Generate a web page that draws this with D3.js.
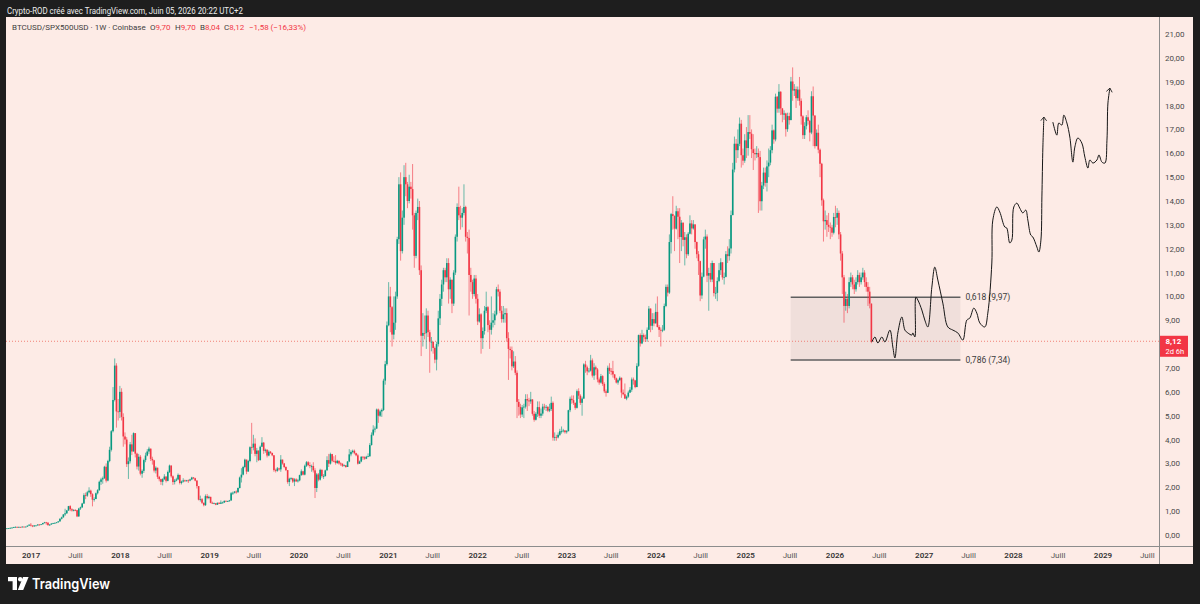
<!DOCTYPE html>
<html>
<head>
<meta charset="utf-8">
<script src="https://cdn.jsdelivr.net/npm/d3@7"></script>
<style>
  html, body { margin: 0; padding: 0; background: #1e1e1e; }
  svg { display: block; }
  text { font-family: Roboto, "Liberation Sans", sans-serif; }
</style>
</head>
<body>
<svg id="chart"></svg>
<script>
// weekly candles BTCUSD/SPX500USD, one array per year: [close, high, low]
// open of each week = close of the week before
const firstOpen = 0.27;
const weekStarts = ['2016-09-26', '2017-01-02', '2018-01-01', '2019-01-07', '2020-01-06',
    '2021-01-04', '2022-01-03', '2023-01-02', '2024-01-01', '2025-01-06', '2026-01-05'];

const candles2016 = [[0.28,0.29,0.27],[0.29,0.29,0.28],[0.30,0.31,0.28],[0.31,0.32,0.29],[0.33,0.34,0.30],[0.34,0.36,0.32],[0.33,0.35,0.32],[0.34,0.35,0.32],[0.33,0.34,0.32],[0.35,0.36,0.33],[0.34,0.35,0.33],[0.35,0.36,0.34],[0.39,0.40,0.35],[0.43,0.45,0.39]];
const candles2017 = [[0.40,0.50,0.36],[0.36,0.40,0.33],[0.40,0.41,0.35],[0.40,0.41,0.39],[0.44,0.45,0.40],[0.43,0.45,0.40],[0.45,0.46,0.43],[0.50,0.51,0.44],[0.53,0.55,0.49],[0.52,0.55,0.43],[0.41,0.52,0.40],[0.44,0.45,0.38],[0.48,0.49,0.43],[0.50,0.51,0.47],[0.51,0.52,0.49],[0.53,0.54,0.50],[0.57,0.58,0.52],[0.68,0.70,0.56],[0.74,0.77,0.65],[0.86,0.88,0.73],[0.91,1.10,0.80],[1.03,1.05,0.88],[1.21,1.22,1.01],[1.08,1.25,1.00],[1.03,1.12,0.98],[1.05,1.08,0.99],[1.04,1.08,1.00],[0.78,1.05,0.75],[1.11,1.14,0.76],[1.16,1.19,1.05],[1.32,1.35,1.13],[1.67,1.75,1.30],[1.65,1.78,1.50],[1.79,1.85,1.60],[1.86,2.00,1.75],[1.71,1.90,1.60],[1.48,1.75,1.20],[1.51,1.58,1.40],[1.75,1.78,1.50],[1.88,1.92,1.70],[2.23,2.28,1.85],[2.33,2.40,2.10],[2.38,2.45,2.15],[2.86,2.90,2.35],[2.28,3.00,2.20],[3.10,3.15,2.25],[3.57,3.70,3.05],[4.35,4.40,3.50],[5.66,6.20,4.30],[7.10,7.40,5.60],[5.18,7.20,4.50],[5.16,5.70,4.80]];
const candles2018 = [[6.00,6.25,4.90],[4.95,6.15,4.80],[4.13,5.10,3.70],[4.00,4.30,3.80],[2.97,4.10,2.85],[3.09,3.25,2.35],[3.80,3.90,3.00],[3.50,4.20,3.35],[4.27,4.30,3.50],[3.41,4.15,3.25],[2.87,3.45,2.75],[3.28,3.40,2.70],[2.57,3.35,2.50],[2.69,2.75,2.40],[3.14,3.20,2.60],[3.33,3.45,3.05],[3.50,3.60,3.30],[3.62,3.70,3.40],[3.19,3.62,3.10],[3.13,3.28,2.95],[2.70,3.15,2.62],[2.82,2.88,2.58],[2.44,2.82,2.35],[2.34,2.48,2.25],[2.23,2.36,2.10],[2.34,2.38,2.08],[2.45,2.55,2.30],[2.27,2.46,2.20],[2.64,2.70,2.25],[2.91,2.95,2.60],[2.46,2.92,2.40],[2.22,2.50,2.10],[2.28,2.35,2.12],[2.33,2.40,2.25],[2.52,2.58,2.30],[2.18,2.52,2.12],[2.24,2.28,2.12],[2.29,2.38,2.20],[2.27,2.32,2.22],[2.29,2.31,2.24],[2.28,2.33,2.18],[2.33,2.36,2.25],[2.41,2.44,2.30],[2.38,2.43,2.34],[2.28,2.40,2.25],[2.05,2.30,1.95],[1.48,2.05,1.45],[1.50,1.65,1.40],[1.35,1.55,1.30],[1.25,1.36,1.20],[1.63,1.70,1.22],[1.55,1.72,1.50],[1.60,1.65,1.50]];
const candles2019 = [[1.35,1.60,1.33],[1.33,1.40,1.30],[1.33,1.36,1.30],[1.27,1.34,1.25],[1.35,1.36,1.26],[1.31,1.37,1.30],[1.36,1.45,1.30],[1.36,1.40,1.33],[1.43,1.45,1.35],[1.42,1.45,1.40],[1.42,1.44,1.40],[1.45,1.47,1.40],[1.75,1.80,1.43],[1.77,1.82,1.68],[1.82,1.84,1.74],[1.79,1.87,1.73],[1.97,1.99,1.78],[2.41,2.45,1.95],[2.53,2.80,2.20],[2.85,2.90,2.50],[3.16,3.20,2.80],[2.66,3.10,2.55],[3.10,3.15,2.65],[3.68,3.72,3.05],[3.67,4.70,3.40],[3.83,4.20,3.55],[3.40,4.05,3.30],[3.54,3.65,3.05],[3.14,3.50,3.10],[3.70,3.75,3.12],[3.87,4.10,3.70],[3.53,3.90,3.40],[3.57,3.62,3.45],[3.33,3.60,3.25],[3.49,3.55,3.30],[3.44,3.52,3.40],[3.34,3.45,3.30],[2.72,3.35,2.65],[2.69,2.78,2.62],[2.79,2.85,2.65],[2.75,2.82,2.70],[3.16,3.35,2.65],[3.00,3.10,2.95],[2.85,3.02,2.80],[2.72,2.88,2.68],[2.22,2.72,2.15],[2.36,2.40,2.05],[2.38,2.42,2.30],[2.24,2.40,2.18],[2.33,2.38,2.05],[2.25,2.38,2.22],[2.29,2.35,2.20]];
const candles2020 = [[2.51,2.53,2.25],[2.67,2.75,2.48],[2.53,2.69,2.50],[2.90,2.95,2.50],[3.05,3.10,2.85],[2.93,3.10,2.88],[2.89,3.05,2.80],[2.89,2.95,2.65],[2.71,3.05,2.62],[1.97,2.80,1.55],[2.54,2.60,1.80],[2.32,2.60,2.25],[2.73,2.78,2.28],[2.47,2.75,2.40],[2.47,2.55,2.35],[2.71,2.74,2.45],[3.14,3.30,2.70],[2.99,3.40,2.85],[3.39,3.45,2.95],[3.11,3.40,3.05],[3.10,3.30,3.05],[3.02,3.35,2.95],[3.11,3.15,2.98],[3.00,3.12,2.95],[2.99,3.05,2.90],[2.90,3.00,2.85],[2.92,2.96,2.88],[2.85,2.93,2.82],[3.08,3.10,2.85],[3.38,3.60,3.05],[3.48,3.55,3.30],[3.53,3.58,3.42],[3.43,3.58,3.38],[3.34,3.45,3.30],[2.99,3.40,2.95],[3.08,3.12,2.98],[3.28,3.30,3.05],[3.26,3.30,3.15],[3.20,3.30,3.15],[3.28,3.32,3.18],[3.30,3.42,3.27],[3.77,3.85,3.28],[4.20,4.30,3.75],[4.42,4.60,4.15],[4.46,4.55,4.30],[5.26,5.30,4.45],[5.00,5.30,4.70],[5.18,5.25,4.95],[5.24,5.30,4.95],[6.47,6.55,5.20],[7.16,7.30,6.30],[8.79,8.95,7.10]];
const candles2021 = [[10.00,10.60,8.75],[9.55,10.40,8.50],[8.40,9.60,7.90],[8.90,10.00,8.20],[10.00,10.20,8.60],[12.40,12.50,9.90],[14.70,15.00,12.20],[11.90,15.20,11.50],[13.30,13.60,11.80],[15.00,15.50,13.00],[14.70,15.60,14.20],[14.00,14.80,13.70],[14.60,15.10,13.90],[14.50,14.80,14.10],[13.40,15.55,12.80],[11.70,13.50,11.20],[13.50,13.60,11.60],[13.75,14.10,13.20],[11.10,14.00,10.90],[8.35,11.30,7.50],[8.47,9.30,7.90],[8.46,9.20,8.20],[9.20,9.50,7.80],[8.50,9.40,8.30],[8.10,8.60,6.80],[8.10,8.30,7.70],[7.84,8.10,7.60],[7.35,7.90,7.20],[8.00,8.10,6.90],[9.08,9.40,7.90],[9.90,10.10,8.80],[10.50,10.70,9.60],[11.10,11.20,10.20],[10.80,11.20,10.60],[11.40,11.60,10.60],[10.30,11.60,9.70],[10.70,10.80,9.90],[9.70,10.70,9.30],[11.00,11.10,9.60],[12.50,12.60,10.90],[13.75,13.90,12.30],[13.40,14.60,13.20],[13.30,13.80,12.80],[13.50,13.70,12.90],[13.75,14.70,13.40],[12.50,13.80,12.30],[12.45,12.70,11.80],[10.90,12.80,9.20],[10.60,11.20,10.20],[10.10,10.70,9.90],[10.75,10.90,10.00],[9.90,10.90,9.70]];
const candles2022 = [[8.95,10.10,8.80],[9.25,9.50,8.90],[8.25,9.30,7.60],[8.55,8.70,7.80],[9.40,9.60,8.40],[9.55,10.20,9.30],[8.80,9.60,8.50],[8.60,9.00,7.80],[8.90,10.00,8.40],[9.00,9.30,8.70],[9.25,9.40,8.80],[10.30,10.40,9.20],[10.20,10.50,10.00],[9.40,10.30,9.30],[9.05,9.60,8.90],[9.25,9.60,8.90],[9.30,9.50,8.90],[8.25,9.50,8.10],[7.80,8.50,6.50],[7.75,7.90,7.40],[7.07,7.90,6.90],[7.27,7.70,7.00],[6.80,7.50,6.70],[5.58,6.90,4.90],[5.37,5.70,5.00],[5.05,5.50,4.90],[5.35,5.45,4.95],[5.38,5.50,4.90],[5.70,5.90,5.30],[5.64,5.90,5.20],[5.60,5.75,5.40],[5.68,6.00,5.50],[5.08,5.70,5.00],[4.83,5.20,4.75],[5.08,5.15,4.80],[5.36,5.60,4.95],[5.00,5.60,4.90],[5.09,5.30,4.90],[5.38,5.50,5.00],[5.34,5.50,5.25],[5.37,5.45,5.20],[5.21,5.40,5.15],[5.28,5.50,5.15],[5.54,5.80,5.20],[4.08,5.60,3.95],[4.11,4.30,3.95],[4.09,4.20,3.95],[4.20,4.30,4.05],[4.35,4.45,4.15],[4.35,4.55,4.25],[4.38,4.45,4.30],[4.31,4.40,4.25]];
const candles2023 = [[4.35,4.40,4.25],[5.23,5.25,4.35],[5.71,5.80,5.15],[5.65,5.85,5.50],[5.54,5.85,5.45],[5.33,5.55,5.25],[6.03,6.10,5.30],[5.84,6.15,5.70],[5.54,5.90,5.45],[5.72,5.80,5.00],[7.15,7.20,5.70],[7.03,7.30,6.80],[6.86,7.10,6.70],[6.89,7.00,6.80],[7.32,7.55,6.85],[6.68,7.40,6.60],[7.03,7.20,6.50],[6.94,7.10,6.70],[6.52,7.00,6.40],[6.39,6.60,6.30],[6.66,6.75,6.35],[6.33,6.70,6.25],[6.02,6.40,5.95],[5.96,6.10,5.80],[7.01,7.10,5.95],[6.88,7.20,6.75],[6.87,7.00,6.70],[6.73,7.30,6.60],[6.57,6.75,6.50],[6.39,6.60,6.35],[6.49,6.55,6.30],[6.59,6.65,6.45],[5.97,6.60,5.75],[5.90,6.10,5.85],[5.72,6.35,5.70],[5.80,5.85,5.65],[5.97,6.05,5.75],[6.09,6.20,5.95],[6.52,6.60,6.00],[6.48,6.60,6.30],[6.20,6.50,6.15],[7.09,7.20,6.20],[8.38,8.40,7.05],[8.03,8.45,7.90],[8.38,8.60,8.00],[8.29,8.45,8.10],[8.21,8.40,8.10],[8.60,8.70,8.10],[9.49,9.60,8.60],[8.77,9.50,8.50],[9.05,9.30,8.60],[8.87,9.30,8.75]];
const candles2024 = [[9.35,9.70,8.90],[8.72,10.00,8.70],[8.60,8.80,8.30],[8.59,8.70,7.90],[8.60,8.80,8.50],[9.60,9.70,8.55],[10.40,10.50,9.55],[10.16,10.50,10.00],[12.28,12.60,10.10],[13.45,13.50,11.80],[13.37,14.20,12.80],[12.84,13.40,11.90],[13.57,13.80,12.80],[13.34,13.70,12.40],[12.49,13.70,11.40],[13.09,13.20,11.90],[12.37,13.10,12.10],[12.48,12.70,11.30],[11.77,12.60,11.60],[12.63,12.70,11.70],[13.06,13.40,12.60],[12.85,13.20,12.60],[13.02,13.20,12.80],[12.28,13.00,12.00],[11.77,12.30,11.60],[11.48,11.90,10.90],[10.04,11.50,9.80],[10.83,11.00,9.90],[12.39,12.50,10.80],[12.51,12.80,12.00],[10.87,12.60,10.60],[10.98,11.20,9.40],[10.71,11.40,10.60],[11.40,11.50,10.60],[10.14,11.40,10.00],[10.15,10.40,9.90],[10.65,10.80,9.80],[11.10,11.40,10.60],[11.43,11.60,10.90],[10.80,11.40,10.70],[10.82,11.00,10.50],[11.77,11.90,10.80],[11.69,12.10,11.40],[12.01,12.40,11.50],[13.41,13.60,11.80],[15.32,15.60,13.40],[16.40,16.70,15.20],[16.13,16.60,15.60],[16.40,17.00,15.80],[17.24,17.50,16.30],[15.92,17.40,15.40],[15.69,16.20,15.50],[16.54,16.80,15.60]];
const candles2025 = [[16.22,17.10,15.80],[16.89,17.60,15.90],[16.82,17.60,16.60],[16.17,17.00,15.80],[16.01,16.80,15.30],[15.96,16.20,15.70],[16.01,16.30,15.80],[15.84,16.20,13.50],[13.99,16.10,13.60],[14.65,14.80,13.60],[15.19,15.40,14.50],[14.76,15.40,14.60],[15.45,15.70,14.40],[15.61,16.20,15.00],[16.13,16.30,15.50],[16.96,17.20,16.00],[16.58,17.00,16.40],[18.37,18.50,16.50],[17.87,18.40,17.70],[18.58,18.90,17.70],[17.88,18.60,17.60],[17.62,17.90,17.30],[17.67,17.80,17.40],[17.01,17.70,16.70],[17.56,17.70,16.90],[17.39,17.70,17.20],[19.01,19.20,17.40],[18.63,19.60,18.20],[18.69,18.90,18.40],[18.31,18.80,17.90],[18.67,18.80,18.20],[18.20,19.20,18.00],[17.55,18.30,17.20],[16.76,17.60,16.60],[17.14,17.30,16.60],[17.51,17.60,17.00],[17.36,17.80,17.20],[16.87,17.40,16.50],[18.39,18.60,16.80],[17.58,18.80,16.30],[16.30,17.60,16.20],[16.86,17.00,16.30],[16.15,17.20,16.00],[15.56,16.20,15.00],[14.03,15.60,13.80],[13.15,14.10,12.30],[13.20,13.60,12.80],[13.00,13.40,12.50],[12.92,13.50,12.70],[12.89,13.10,12.40],[12.67,13.00,12.50],[13.33,13.50,12.60]];
const candles2026 = [[13.30,13.80,12.90],[13.50,13.70,13.00],[12.60,13.60,12.40],[11.80,12.70,11.50],[10.80,11.90,10.10],[9.60,10.90,8.90],[9.90,10.20,9.40],[9.60,10.10,9.30],[10.60,10.80,9.50],[10.80,11.00,10.40],[10.50,10.90,10.30],[10.30,10.70,10.10],[10.60,10.80,10.20],[10.90,11.10,10.50],[10.60,11.00,10.40],[10.80,11.00,10.50],[11.00,11.20,10.70],[10.60,11.10,10.40],[10.40,10.80,10.20],[10.20,10.60,9.60],[9.70,10.40,9.50],[8.12,9.70,8.04]];

const yearlyCandles = [candles2016, candles2017, candles2018, candles2019, candles2020, candles2021,
    candles2022, candles2023, candles2024, candles2025, candles2026];

// hand-drawn projection, [decimal year, value]
const projectionA = [[2026.419,8.09],[2026.453,8.30],[2026.486,8.05],[2026.531,8.30],[2026.565,8.09],[2026.621,8.59],[2026.654,7.88],[2026.677,7.42],[2026.710,8.47],[2026.755,9.14],[2026.789,8.59],[2026.822,8.47],[2026.867,8.38],[2026.878,8.47],[2026.901,8.30],[2026.912,9.97],[2026.934,9.85],[2026.979,9.43],[2027.012,9.01],[2027.046,8.72],[2027.091,10.39],[2027.124,11.23],[2027.158,10.69],[2027.214,9.72],[2027.270,8.72],[2027.326,8.59],[2027.382,8.47],[2027.438,8.17],[2027.483,9.01],[2027.516,9.09],[2027.561,9.51],[2027.595,9.30],[2027.628,8.89],[2027.684,8.72],[2027.718,9.30],[2027.763,11.40],[2027.774,13.20],[2027.819,13.75],[2027.852,13.54],[2027.908,12.91],[2027.930,12.87],[2027.964,12.24],[2027.987,12.36],[2028.009,13.75],[2028.043,13.91],[2028.076,13.70],[2028.110,13.50],[2028.143,13.62],[2028.166,13.20],[2028.199,12.57],[2028.222,12.49],[2028.267,12.07],[2028.289,11.86],[2028.312,12.36],[2028.323,14.17],[2028.334,16.26],[2028.345,17.52]];
const projectionB = [[2028.445,17.31],[2028.490,16.76],[2028.512,17.27],[2028.546,17.18],[2028.568,17.60],[2028.602,17.27],[2028.635,16.68],[2028.669,15.63],[2028.691,16.26],[2028.725,16.64],[2028.769,16.43],[2028.803,15.84],[2028.837,15.38],[2028.859,15.72],[2028.893,15.59],[2028.938,15.72],[2028.960,15.93],[2028.994,15.63],[2029.027,15.59],[2029.050,16.55],[2029.061,18.11],[2029.083,18.73]];

// fibonacci retracement zone
const fibRatios = ['0,618', '0,786'];
const fibLevels = [9.97, 7.34];
const fibSpan = ['2025-07-06', '2027-05-31'];

// 8,00 sits under the last price tag, so it is not listed
const priceTicks = [0, 1, 2, 3, 4, 5, 6, 7, 9, 10, 11, 12, 13, 14, 15, 16, 17, 18, 19, 20, 21];
const tickYears = [2017, 2018, 2019, 2020, 2021, 2022, 2023, 2024, 2025, 2026, 2027, 2028, 2029];
const midYearLabel = 'Juill';

const headerText = 'Crypto-ROD créé avec TradingView.com, Juin 05, 2026 20:22 UTC+2';
const symbolText = 'BTCUSD/SPX500USD · 1W · Coinbase';
const ohlcKeys = ['O', 'H', 'B', 'C'];
const changeText = '−1,58 (−16,33%)';
const countdownText = '2d 6h';

const width = 1200;
const height = 604;
const panel = { left: 6, top: 17, right: 1193, bottom: 564 };
const plot = { right: 1159, bottom: 546 };

const upColor = '#089981';
const downColor = '#f23645';
const textColor = '#4a4a4a';

const fr = d3.formatLocale({ decimal: ',', thousands: ' ', grouping: [3], currency: ['', ''] });
const fmt = fr.format('.2f');

const parseDay = d3.utcParse('%Y-%m-%d');
const yearToDate = (t) => {
    const y = Math.floor(t);
    const a = Date.UTC(y, 0, 1);
    const b = Date.UTC(y + 1, 0, 1);
    return new Date(a + (t - y) * (b - a));
};

// flatten yearly arrays into candles
const candles = [];
let prevClose = firstOpen;
yearlyCandles.forEach((rows, i) => {
    const start = parseDay(weekStarts[i]);
    rows.forEach((r, j) => {
        const [close, high, low] = r;
        candles.push({
            date: d3.utcDay.offset(start, 7 * j),
            open: prevClose,
            close: close,
            high: Math.max(high, prevClose, close),
            low: Math.min(low, prevClose, close),
        });
        prevClose = close;
    });
});
const last = candles[candles.length - 1];

const xScale = d3.scaleUtc()
    .domain([new Date(Date.UTC(2017, 0, 1)), new Date(Date.UTC(2029, 0, 1))])
    .range([30.6, 1102.5]);
const yScale = d3.scaleLinear().domain([0, 21]).range([535, 34]);

const svg = d3.select('#chart')
    .attr('width', width)
    .attr('height', height);

svg.append('rect')
    .attr('width', width)
    .attr('height', height)
    .attr('fill', '#1e1e1e');

svg.append('text')
    .attr('x', 7)
    .attr('y', 13.5)
    .attr('fill', '#ececec')
    .style('font-size', '9px')
    .attr('textLength', 236)
    .attr('lengthAdjust', 'spacingAndGlyphs')
    .text(headerText);

svg.append('rect')
    .attr('x', panel.left)
    .attr('y', panel.top)
    .attr('width', panel.right - panel.left)
    .attr('height', panel.bottom - panel.top)
    .attr('fill', '#fdebe6');

svg.append('defs')
    .append('clipPath')
    .attr('id', 'plot-clip')
    .append('rect')
    .attr('x', panel.left)
    .attr('y', panel.top)
    .attr('width', plot.right - panel.left)
    .attr('height', plot.bottom - panel.top);

const plotArea = svg.append('g').attr('clip-path', 'url(#plot-clip)');

// fib zone
const fibX0 = xScale(parseDay(fibSpan[0]));
const fibX1 = xScale(parseDay(fibSpan[1]));
plotArea.append('rect')
    .attr('x', fibX0)
    .attr('y', yScale(fibLevels[0]))
    .attr('width', fibX1 - fibX0)
    .attr('height', yScale(fibLevels[1]) - yScale(fibLevels[0]))
    .attr('fill', '#f0dfdb');

plotArea.selectAll('.fib-line')
    .data(fibLevels)
    .enter()
    .append('line')
    .attr('class', 'fib-line')
    .attr('x1', fibX0)
    .attr('x2', fibX1)
    .attr('y1', (d) => yScale(d))
    .attr('y2', (d) => yScale(d))
    .attr('stroke', '#5f5f5f')
    .attr('stroke-width', 1.5);

plotArea.selectAll('.fib-label')
    .data(fibLevels)
    .enter()
    .append('text')
    .attr('class', 'fib-label')
    .attr('x', fibX1 + 5)
    .attr('y', (d) => yScale(d) + 3)
    .attr('fill', '#3c3c3c')
    .style('font-size', '8.5px')
    .text((d, i) => `${fibRatios[i]} (${fmt(d)})`);

// last price dotted line
plotArea.append('line')
    .attr('x1', panel.left)
    .attr('x2', plot.right)
    .attr('y1', yScale(last.close))
    .attr('y2', yScale(last.close))
    .attr('stroke', '#f06f66')
    .attr('stroke-width', 1)
    .attr('stroke-dasharray', '1,2')
    .attr('opacity', 0.85);

// candles
const bars = plotArea.append('g')
    .attr('class', 'candles')
    .selectAll('g')
    .data(candles)
    .enter()
    .append('g')
    .attr('transform', (d) => `translate(${xScale(d.date)},0)`);

bars.append('line')
    .attr('y1', (d) => yScale(d.high))
    .attr('y2', (d) => yScale(d.low))
    .attr('stroke', (d) => (d.close >= d.open ? upColor : downColor))
    .attr('stroke-width', 1)
    .attr('opacity', 0.6);

bars.append('rect')
    .attr('x', -0.8)
    .attr('width', 1.6)
    .attr('y', (d) => yScale(Math.max(d.open, d.close)))
    .attr('height', (d) => Math.max(0.8, Math.abs(yScale(d.open) - yScale(d.close))))
    .attr('fill', (d) => (d.close >= d.open ? upColor : downColor));

// projection drawing
svg.select('defs')
    .append('marker')
    .attr('id', 'arrow')
    .attr('viewBox', '-6 -6 12 12')
    .attr('markerWidth', 10)
    .attr('markerHeight', 10)
    .attr('markerUnits', 'userSpaceOnUse')
    .attr('orient', 'auto')
    .append('path')
    .attr('d', 'M-4.5,-3.5L0,0L-4.5,3.5')
    .attr('fill', 'none')
    .attr('stroke', '#161616')
    .attr('stroke-width', 1);

const projLine = d3.line()
    .x((d) => xScale(yearToDate(d[0])))
    .y((d) => yScale(d[1]))
    .curve(d3.curveCatmullRom.alpha(0.5));

plotArea.selectAll('.projection')
    .data([projectionA, projectionB])
    .enter()
    .append('path')
    .attr('class', 'projection')
    .attr('d', projLine)
    .attr('fill', 'none')
    .attr('stroke', '#161616')
    .attr('stroke-width', 1)
    .attr('marker-end', 'url(#arrow)');

// separators
svg.append('line')
    .attr('x1', plot.right + 0.5)
    .attr('x2', plot.right + 0.5)
    .attr('y1', panel.top)
    .attr('y2', panel.bottom)
    .attr('stroke', '#8c8c8c');

svg.append('line')
    .attr('x1', panel.left)
    .attr('x2', panel.right)
    .attr('y1', plot.bottom + 0.5)
    .attr('y2', plot.bottom + 0.5)
    .attr('stroke', '#8c8c8c');

// price axis
const yAxis = d3.axisRight(yScale)
    .tickValues(priceTicks)
    .tickFormat(fmt)
    .tickSize(0)
    .tickPadding(6);

svg.append('g')
    .attr('class', 'y axis')
    .attr('transform', `translate(${plot.right},0)`)
    .call(yAxis)
    .call((g) => g.select('.domain').remove())
    .selectAll('text')
    .attr('fill', textColor)
    .style('font-size', '8px')
    .style('font-family', 'Roboto, sans-serif');

// time axis
const timeTicks = [];
tickYears.forEach((y) => {
    timeTicks.push(new Date(Date.UTC(y, 0, 1)));
    timeTicks.push(new Date(Date.UTC(y, 6, 1)));
});

const xAxis = d3.axisBottom(xScale)
    .tickValues(timeTicks)
    .tickFormat((d) => (d.getUTCMonth() === 0 ? d.getUTCFullYear() : midYearLabel))
    .tickSize(0)
    .tickPadding(6);

svg.append('g')
    .attr('class', 'x axis')
    .attr('transform', `translate(0,${plot.bottom})`)
    .call(xAxis)
    .call((g) => g.select('.domain').remove())
    .selectAll('text')
    .attr('fill', (d) => (d.getUTCMonth() === 0 ? '#333' : '#555'))
    .style('font-weight', (d) => (d.getUTCMonth() === 0 ? 600 : 400))
    .style('font-size', '8px')
    .style('font-family', 'Roboto, sans-serif');

// last price tag
const tagY = yScale(last.close);
svg.append('rect')
    .attr('x', plot.right + 1)
    .attr('y', tagY - 5.5)
    .attr('width', 28)
    .attr('height', 21)
    .attr('fill', downColor);

svg.append('text')
    .attr('x', plot.right + 6.5)
    .attr('y', tagY + 2.5)
    .attr('fill', '#fff')
    .style('font-size', '8px')
    .style('font-weight', 700)
    .text(fmt(last.close));

svg.append('text')
    .attr('x', plot.right + 6.5)
    .attr('y', tagY + 13)
    .attr('fill', '#fff')
    .style('font-size', '7.5px')
    .text(countdownText);

// legend
const legendY = 30;
svg.append('text')
    .attr('x', 12)
    .attr('y', legendY)
    .attr('fill', '#3d3d3d')
    .style('font-size', '8px')
    .text(symbolText);

const ohlcValues = [last.open, last.high, last.low, last.close];
const ohlcX = [150, 175, 200, 224];
ohlcKeys.forEach((k, i) => {
    const t = svg.append('text')
        .attr('x', ohlcX[i])
        .attr('y', legendY)
        .style('font-size', '8px')
        .attr('fill', '#3d3d3d');
    t.append('tspan').text(k);
    t.append('tspan').attr('fill', downColor).text(fmt(ohlcValues[i]));
});
svg.append('text')
    .attr('x', 249)
    .attr('y', legendY)
    .attr('fill', downColor)
    .style('font-size', '8px')
    .text(changeText);

// TradingView logo
const logo = svg.append('g').attr('fill', '#ffffff');
logo.append('path').attr('d', 'M8,577H17V590H12.6V581.2H8Z');
logo.append('circle').attr('cx', 20.2).attr('cy', 579.2).attr('r', 2.2);
logo.append('path').attr('d', 'M23,577H28.6L23.2,590H17.8Z');
logo.append('text')
    .attr('x', 32)
    .attr('y', 589)
    .style('font-family', 'Inter, sans-serif')
    .style('font-size', '14.5px')
    .style('font-weight', 600)
    .attr('textLength', 78)
    .attr('lengthAdjust', 'spacingAndGlyphs')
    .text('TradingView');
</script>
</body>
</html>
